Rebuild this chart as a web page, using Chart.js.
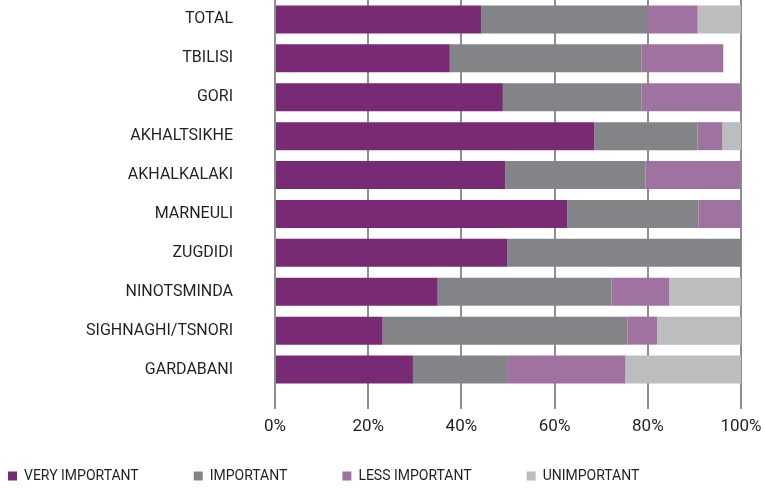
<!DOCTYPE html>
<html>
<head>
<meta charset="utf-8">
<script src="https://cdn.jsdelivr.net/npm/chart.js@4"></script>
<style>
    html, body { margin: 0; padding: 0; background: #fff; }
    #wrap { width: 765px; height: 488px; position: relative; }
</style>
</head>
<body>
<div id="wrap"><canvas id="importanceChart"></canvas></div>
<script>
const regions = ['TOTAL', 'TBILISI', 'GORI', 'AKHALTSIKHE', 'AKHALKALAKI', 'MARNEULI', 'ZUGDIDI', 'NINOTSMINDA', 'SIGHNAGHI/TSNORI', 'GARDABANI'];

const veryImportant = [44.2, 37.5, 48.9, 68.5, 49.4, 62.7, 49.8, 34.9, 23.1, 29.6];
const important     = [35.7, 41.2, 29.8, 22.2, 30.1, 28.2, 50.2, 37.3, 52.5, 20.2];
const lessImportant = [10.8, 17.5, 21.3,  5.3, 20.5,  9.1,  0.0, 12.4,  6.4, 25.4];
const unimportant   = [ 9.3,  0.0,  0.0,  4.0,  0.0,  0.0,  0.0, 15.4, 18.0, 24.8];

const textColor = '#231f20';
const gridColor = '#8e8f92';

// x tick labels sit below the shortened x axis box, so widen its clip area
const unclipTicks = {
    id: 'unclipTicks',
    afterLayout(chart) {
        chart.scales.x.bottom = chart.height;
    }
};

const ctx = document.getElementById('importanceChart');

new Chart(ctx, {
    type: 'bar',
    data: {
        labels: regions,
        datasets: [
            { label: 'VERY IMPORTANT', data: veryImportant, backgroundColor: '#782a74' },
            { label: 'IMPORTANT', data: important, backgroundColor: '#838487' },
            { label: 'LESS IMPORTANT', data: lessImportant, backgroundColor: '#a0729f' },
            { label: 'UNIMPORTANT', data: unimportant, backgroundColor: '#bcbdbf' }
        ]
    },
    plugins: [unclipTicks],
    options: {
        indexAxis: 'y',
        responsive: true,
        maintainAspectRatio: false,
        animation: false,
        datasets: {
            bar: {
                borderWidth: 0,
                categoryPercentage: 1,
                barPercentage: 0.72
            }
        },
        layout: {
            padding: { left: -47, right: 24, top: 0, bottom: -5 }
        },
        plugins: {
            tooltip: { enabled: false },
            legend: {
                position: 'bottom',
                align: 'start',
                labels: {
                    boxWidth: 9,
                    boxHeight: 9,
                    padding: 55,
                    color: textColor,
                    font: { family: 'Roboto', size: 14 }
                }
            }
        },
        scales: {
            x: {
                stacked: true,
                min: 0,
                max: 100,
                ticks: {
                    stepSize: 20,
                    padding: 8,
                    color: textColor,
                    font: { family: 'Roboto', size: 17 },
                    callback: (v) => v + '%'
                },
                grid: {
                    color: gridColor,
                    lineWidth: 2,
                    tickLength: 20,
                    drawTicks: true
                },
                border: { display: false },
                afterFit: (scale) => {
                    scale.height = 25;
                    scale.paddingRight = 20;
                }
            },
            y: {
                stacked: true,
                ticks: {
                    padding: 4,
                    color: textColor,
                    font: { family: 'Roboto', size: 16 }
                },
                grid: {
                    display: false,
                    drawTicks: true,
                    tickLength: 38
                },
                border: { display: false },
                afterFit: (scale) => {
                    scale.width = 322;
                    scale.paddingTop = 0;
                    scale.paddingBottom = 0;
                }
            }
        }
    }
});
</script>
</body>
</html>
